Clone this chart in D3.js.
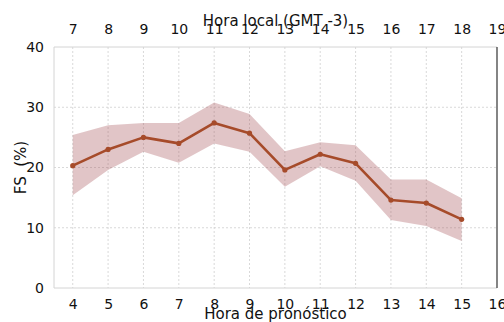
<!DOCTYPE html>
<html>
<head>
<meta charset="utf-8">
<script src="https://cdn.jsdelivr.net/npm/d3@7/dist/d3.min.js"></script>
<style>
  html, body { margin: 0; padding: 0; background: #fff; }
  svg { display: block; font-family: "DejaVu Sans", sans-serif; }
</style>
</head>
<body>
<svg id="chart" width="504" height="322"></svg>
<script>
// Forecast hour (lead time) and the matching local hour (GMT -3)
const leadHours = [4, 5, 6, 7, 8, 9, 10, 11, 12, 13, 14, 15];
const fsMean  = [20.3, 23.0, 25.0, 24.0, 27.4, 25.7, 19.6, 22.2, 20.7, 14.6, 14.1, 11.4];
const fsUpper = [25.4, 27.0, 27.4, 27.4, 30.8, 28.9, 22.7, 24.2, 23.7, 18.0, 18.0, 14.9];
const fsLower = [15.4, 19.6, 22.6, 20.8, 24.0, 22.6, 16.8, 20.2, 17.8, 11.3, 10.3, 7.8];
const bottomTicks = [4, 5, 6, 7, 8, 9, 10, 11, 12, 13, 14, 15, 16];
const localOffset = 3;
const yTicks = [0, 10, 20, 30, 40];

const svg = d3.select("#chart");
const m = { left: 54, right: 497, top: 47, bottom: 288 };

const x = d3.scaleLinear().domain([3.47, 16]).range([m.left, m.right]);
const y = d3.scaleLinear().domain([0, 40]).range([m.bottom, m.top]);

const rows = leadHours.map((h, i) => ({ h, mean: fsMean[i], hi: fsUpper[i], lo: fsLower[i] }));

// dotted grid
const grid = svg.append("g");
grid.selectAll("line.v").data(bottomTicks.filter(t => t < 16)).join("line")
  .attr("x1", d => x(d)).attr("x2", d => x(d))
  .attr("y1", m.top).attr("y2", m.bottom)
  .attr("stroke", "#cfcfcf").attr("stroke-width", 0.8).attr("stroke-dasharray", "2,2");
grid.selectAll("line.h").data(yTicks.filter(t => t > 0 && t < 40)).join("line")
  .attr("x1", m.left).attr("x2", m.right)
  .attr("y1", d => y(d)).attr("y2", d => y(d))
  .attr("stroke", "#cfcfcf").attr("stroke-width", 0.8).attr("stroke-dasharray", "2,2");

// uncertainty band
svg.append("path").datum(rows)
  .attr("fill", "rgba(170,90,95,0.35)")
  .attr("d", d3.area().x(d => x(d.h)).y0(d => y(d.lo)).y1(d => y(d.hi)));

// mean line with markers
svg.append("path").datum(rows)
  .attr("fill", "none").attr("stroke", "#a64b2a").attr("stroke-width", 2.6)
  .attr("stroke-linejoin", "round")
  .attr("d", d3.line().x(d => x(d.h)).y(d => y(d.mean)));
svg.selectAll("circle.pt").data(rows).join("circle")
  .attr("cx", d => x(d.h)).attr("cy", d => y(d.mean)).attr("r", 2.6)
  .attr("fill", "#a64b2a");

// frame
svg.append("line").attr("x1", m.left).attr("x2", m.right).attr("y1", m.top).attr("y2", m.top)
  .attr("stroke", "#d4d4d4").attr("stroke-width", 1);
svg.append("line").attr("x1", m.left).attr("x2", m.right).attr("y1", m.bottom).attr("y2", m.bottom)
  .attr("stroke", "#d4d4d4").attr("stroke-width", 1);
svg.append("line").attr("x1", m.left).attr("x2", m.left).attr("y1", m.top).attr("y2", m.bottom)
  .attr("stroke", "#d4d4d4").attr("stroke-width", 1);
svg.append("line").attr("x1", m.right).attr("x2", m.right).attr("y1", m.top).attr("y2", m.bottom)
  .attr("stroke", "#333").attr("stroke-width", 1.2);

// axes (labels only, no tick marks)
function styleAxis(g) {
  g.attr("font-size", 14).attr("font-family", "DejaVu Sans, sans-serif");
  g.select(".domain").remove();
  g.selectAll(".tick line").remove();
  g.selectAll(".tick text").attr("fill", "#111");
}
svg.append("g").attr("transform", `translate(0,${m.bottom})`)
  .call(d3.axisBottom(x).tickValues(bottomTicks).tickFormat(d3.format("d")).tickPadding(5))
  .call(styleAxis);
svg.append("g").attr("transform", `translate(0,${m.top})`)
  .call(d3.axisTop(x).tickValues(bottomTicks).tickFormat(d => d + localOffset).tickPadding(7))
  .call(styleAxis);
svg.append("g").attr("transform", `translate(${m.left},0)`)
  .call(d3.axisLeft(y).tickValues(yTicks).tickFormat(d3.format("d")).tickPadding(4))
  .call(styleAxis);

// axis titles
const cx = (m.left + m.right) / 2;
svg.append("text").attr("x", cx).attr("y", 319).attr("text-anchor", "middle")
  .style("font-size", "15px").attr("fill", "#111").text("Hora de pronóstico");
svg.append("text").attr("x", cx).attr("y", 26).attr("text-anchor", "middle")
  .style("font-size", "15px").attr("fill", "#111").text("Hora local (GMT -3)");
svg.append("text").attr("transform", `translate(26,${(m.top + m.bottom) / 2}) rotate(-90)`)
  .attr("text-anchor", "middle").style("font-size", "15px").style("white-space", "pre")
  .attr("fill", "#111").text("FS  (%)");
</script>
</body>
</html>
